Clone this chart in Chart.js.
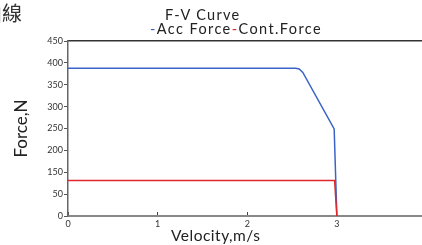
<!DOCTYPE html>
<html>
<head>
<meta charset="utf-8">
<script src="https://cdn.jsdelivr.net/npm/chart.js@4/dist/chart.umd.min.js"></script>
<style>
    html, body { margin: 0; padding: 0; background: #fff; overflow: hidden; }
    #wrap { position: relative; width: 422px; height: 245px; overflow: hidden; }
    #fv { position: absolute; left: 0; top: 0; }
    .txt { position: absolute; color: #222; font-family: "Lato", sans-serif; white-space: nowrap; }
    #side { left: -18px; top: -2px; font-family: "Noto Sans CJK TC", sans-serif; font-size: 20px; color: #333; }
    #t1 { left: 165px; top: 6px; font-size: 14.5px; letter-spacing: 1.3px; }
    #t2 { left: 150px; top: 20px; font-size: 14.5px; letter-spacing: 1.4px; }
    #xt { left: 171px; top: 226px; font-size: 15.5px; letter-spacing: 0.5px; }
</style>
</head>
<body>
<div id="wrap">
    <canvas id="fv" width="422" height="245"></canvas>
    <div class="txt" id="side">曲線</div>
    <div class="txt" id="t1">F-V Curve</div>
    <div class="txt" id="t2"><span style="color:#3b64c8">-</span>Acc Force<span style="color:#e0282c">-</span>Cont.Force</div>
    <div class="txt" id="xt">Velocity,m/s</div>
</div>
<script>
// valores
var accVel = [0, 2.54, 2.58, 2.62, 2.97, 3.0];
var accForce = [380, 380, 378, 369, 224, 0];
var contVel = [0, 2.975, 3.0];
var contForce = [91, 91, 0];
var yTickLabels = ["0", "50", "150", "200", "250", "300", "350", "400", "450"];
var xTicks = [0, 1, 2, 3];

function pts(xs, ys) {
    return xs.map((x, i) => ({ x: x, y: ys[i] }));
}

var ctx = document.querySelector('#fv').getContext('2d');
var myChart = new Chart(ctx, {
    type: 'line',
    data: {
        datasets: [
            {
                label: "Cont.Force",
                data: pts(contVel, contForce),
                borderColor: '#e0282c',
                borderWidth: 1.5,
                pointRadius: 0,
                tension: 0
            },
            {
                label: "Acc Force",
                data: pts(accVel, accForce),
                borderColor: '#3b64c8',
                borderWidth: 1.5,
                pointRadius: 0,
                tension: 0
            }
        ]
    },
    options: {
        responsive: false,
        animation: false,
        layout: { padding: { left: 0, right: 0, top: 41, bottom: 0 } },
        plugins: {
            legend: { display: false },
            tooltip: { enabled: false }
        },
        scales: {
            x: {
                type: 'linear',
                min: 0,
                max: 3.95,
                afterFit: s => { s.height = 29; },
                afterBuildTicks: s => { s.ticks = xTicks.map(v => ({ value: v })); },
                ticks: {
                    font: { family: 'Lato', size: 9 },
                    color: '#333',
                    padding: 7,
                    maxRotation: 0
                },
                grid: { display: true, drawOnChartArea: false, tickLength: -4, color: '#444' },
                border: { color: '#888', width: 2 }
            },
            x2: {
                type: 'linear',
                position: 'top',
                min: 0,
                max: 3.95,
                afterFit: s => { s.height = 0; },
                ticks: { display: false },
                grid: { display: false, drawTicks: false },
                border: { color: '#333', width: 1.5 }
            },
            y: {
                type: 'linear',
                min: 0,
                max: 450,
                afterFit: s => { s.width = 68; },
                afterBuildTicks: s => {
                    s.ticks = yTickLabels.map((t, i) => ({ value: i * 450 / (yTickLabels.length - 1) }));
                },
                ticks: {
                    font: { family: 'Lato', size: 9 },
                    color: '#333',
                    padding: 1,
                    callback: (v, i) => yTickLabels[i]
                },
                title: {
                    display: true,
                    text: 'Force,N',
                    font: { family: 'Lato', size: 17 },
                    color: '#222',
                    padding: { top: 11, bottom: 0 }
                },
                grid: { display: true, drawOnChartArea: false, tickLength: 4, color: '#555' },
                border: { color: '#666', width: 1.5 }
            }
        }
    }
});
</script>
</body>
</html>
